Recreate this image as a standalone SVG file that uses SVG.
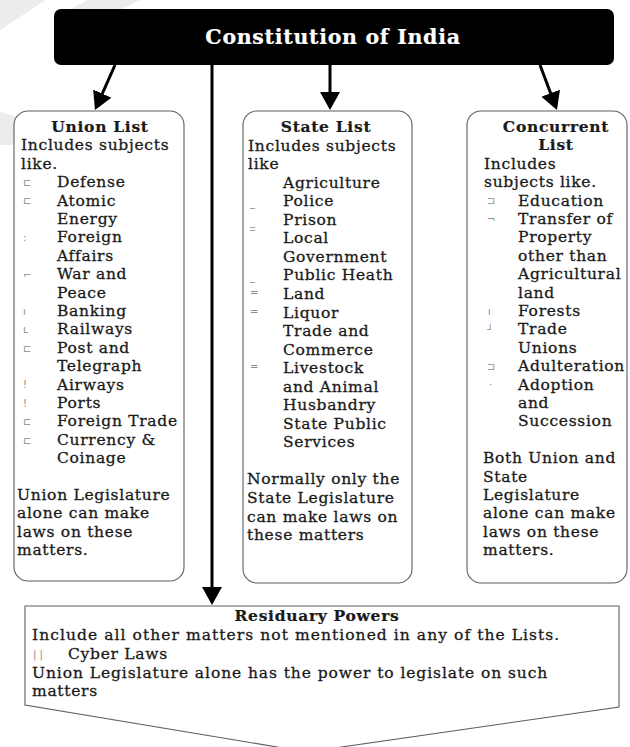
<svg xmlns="http://www.w3.org/2000/svg" width="630" height="747" viewBox="0 0 630 747">
<style>
.t{font-family:"DejaVu Serif","Liberation Serif",serif;font-size:15.5px;letter-spacing:0.7px;fill:#1a1a1a;stroke:#1a1a1a;stroke-width:0.3px}
.h{font-weight:bold;text-anchor:middle;stroke-width:0.2px}
.b{font-family:"DejaVu Sans",sans-serif;font-size:10px;fill:#8a8a8a}
.box{fill:#fff;stroke:#5e5e5e;stroke-width:1.1}
.con{stroke:#000;stroke-width:3;fill:none;marker-end:url(#ah)}
.wm{fill:#ececec}
</style>
<defs>
<marker id="ah" markerUnits="userSpaceOnUse" viewBox="0 0 18 20" refX="15" refY="10" markerWidth="18" markerHeight="20" orient="auto">
<path d="M0,0 L18,10 L0,20 z" fill="#000"/>
</marker>
</defs>
<rect width="630" height="747" fill="#fff"/>
<polygon class="wm" points="0,0 46,0 0,30"/>
<polygon class="wm" points="88,0 140,0 122,9 70,9"/>
<polygon class="wm" points="0,112 22,118 12,145 0,145"/>

<g id="constitution">
<rect x="54" y="9" width="560" height="56" rx="7" fill="#000"/>
<text class="t h" x="333" y="44" style="font-size:20.5px;fill:#fff;stroke:#fff">Constitution of India</text>
</g>

<g id="union-list">
<rect class="box" x="14" y="111" width="170" height="470" rx="14"/>
<text class="t h" x="100" y="132">Union List</text>
<text class="t" x="21" y="150.4">Includes subjects</text>
<text class="t" x="21" y="168.8">like.</text>
<text class="b" x="23" y="186">⊏</text><text class="t" x="57" y="187.2">Defense</text>
<text class="b" x="23" y="204.4">⊏</text><text class="t" x="57" y="205.6">Atomic</text>
<text class="t" x="57" y="224">Energy</text>
<text class="b" x="23" y="241.2">:</text><text class="t" x="57" y="242.4">Foreign</text>
<text class="t" x="57" y="260.8">Affairs</text>
<text class="b" x="23" y="278">⌐</text><text class="t" x="57" y="279.2">War and</text>
<text class="t" x="57" y="297.6">Peace</text>
<text class="b" x="23" y="314.8">ı</text><text class="t" x="57" y="316">Banking</text>
<text class="b" x="23" y="333.2">ʟ</text><text class="t" x="57" y="334.4">Railways</text>
<text class="b" x="23" y="351.6">⊏</text><text class="t" x="57" y="352.8">Post and</text>
<text class="t" x="57" y="371.2">Telegraph</text>
<text class="b" x="23" y="388.4">!</text><text class="t" x="57" y="389.6">Airways</text>
<text class="b" x="23" y="406.8">!</text><text class="t" x="57" y="408">Ports</text>
<text class="b" x="23" y="425.2">⊏</text><text class="t" x="57" y="426.4">Foreign Trade</text>
<text class="b" x="23" y="443.6">⊏</text><text class="t" x="57" y="444.8">Currency &amp;</text>
<text class="t" x="57" y="463.2">Coinage</text>
<text class="t" x="17" y="500">Union Legislature</text>
<text class="t" x="17" y="518.4">alone can make</text>
<text class="t" x="17" y="536.8">laws on these</text>
<text class="t" x="17" y="555.2">matters.</text>
</g>

<g id="state-list">
<rect class="box" x="243" y="111" width="169" height="472" rx="14"/>
<text class="t h" x="326" y="132">State List</text>
<text class="t" x="248" y="150.55">Includes subjects</text>
<text class="t" x="248" y="169.1">like</text>
<text class="t" x="283" y="187.65">Agriculture</text>
<text class="b" x="250" y="206.2">_</text><text class="t" x="283" y="206.2">Police</text>
<text class="b" x="250" y="224.75">_</text><text class="t" x="283" y="224.75">Prison</text>
<text class="b" x="250" y="238">‾</text><text class="t" x="283" y="243.3">Local</text>
<text class="t" x="283" y="261.85">Government</text>
<text class="b" x="250" y="280.4">_</text><text class="t" x="283" y="280.4">Public Heath</text>
<text class="b" x="250" y="296">=</text><text class="t" x="283" y="298.95">Land</text>
<text class="b" x="250" y="314.5">=</text><text class="t" x="283" y="317.5">Liquor</text>
<text class="t" x="283" y="336.05">Trade and</text>
<text class="t" x="283" y="354.6">Commerce</text>
<text class="b" x="250" y="370">=</text><text class="t" x="283" y="373.15">Livestock</text>
<text class="t" x="283" y="391.7">and Animal</text>
<text class="t" x="283" y="410.25">Husbandry</text>
<text class="t" x="283" y="428.8">State Public</text>
<text class="t" x="283" y="447.35">Services</text>
<text class="t" x="247" y="484.45">Normally only the</text>
<text class="t" x="247" y="503">State  Legislature</text>
<text class="t" x="247" y="521.55">can make laws on</text>
<text class="t" x="247" y="540.1">these matters</text>
</g>

<g id="concurrent-list">
<rect class="box" x="467" y="111" width="160" height="472" rx="14"/>
<text class="t h" x="556" y="132">Concurrent</text>
<text class="t h" x="556" y="150.4">List</text>
<text class="t" x="484" y="168.8">Includes</text>
<text class="t" x="484" y="187.2">subjects like.</text>
<text class="b" x="487" y="204.4">⊐</text><text class="t" x="518" y="205.6">Education</text>
<text class="b" x="487" y="222.8">¬</text><text class="t" x="518" y="224">Transfer of</text>
<text class="t" x="518" y="242.4">Property</text>
<text class="t" x="518" y="260.8">other than</text>
<text class="t" x="518" y="279.2">Agricultural</text>
<text class="t" x="518" y="297.6">land</text>
<text class="b" x="488" y="314.8">ı</text><text class="t" x="518" y="316">Forests</text>
<text class="b" x="487" y="333.2">┘</text><text class="t" x="518" y="334.4">Trade</text>
<text class="t" x="518" y="352.8">Unions</text>
<text class="b" x="487" y="370">⊐</text><text class="t" x="518" y="371.2">Adulteration</text>
<text class="b" x="489" y="388.4">·</text><text class="t" x="518" y="389.6">Adoption</text>
<text class="t" x="518" y="408">and</text>
<text class="t" x="518" y="426.4">Succession</text>
<text class="t" x="483" y="463.2">Both Union and</text>
<text class="t" x="483" y="481.6">State</text>
<text class="t" x="483" y="500">Legislature</text>
<text class="t" x="483" y="518.4">alone can make</text>
<text class="t" x="483" y="536.8">laws on these</text>
<text class="t" x="483" y="555.2">matters.</text>
</g>

<g id="residuary-powers">
<polygon class="box" points="25,606 619,606 619,707 307,752 25,705"/>
<text class="t h" x="317" y="621">Residuary Powers</text>
<text class="t" x="32" y="640" textLength="528" lengthAdjust="spacing">Include all other matters not mentioned in any of the Lists.</text>
<text class="b" x="33" y="658">| |</text><text class="t" x="68" y="659">Cyber Laws</text>
<text class="t" x="32" y="678" textLength="516" lengthAdjust="spacing">Union Legislature alone has the power to legislate on such</text>
<text class="t" x="32" y="696">matters</text>
</g>

<g id="connectors">
<line class="con" x1="115" y1="65" x2="96.2" y2="107.3"/>
<line class="con" x1="212" y1="65" x2="212" y2="602"/>
<line class="con" x1="330" y1="65" x2="330" y2="107"/>
<line class="con" x1="540" y1="65" x2="555.9" y2="107.2"/>
</g>
</svg>
